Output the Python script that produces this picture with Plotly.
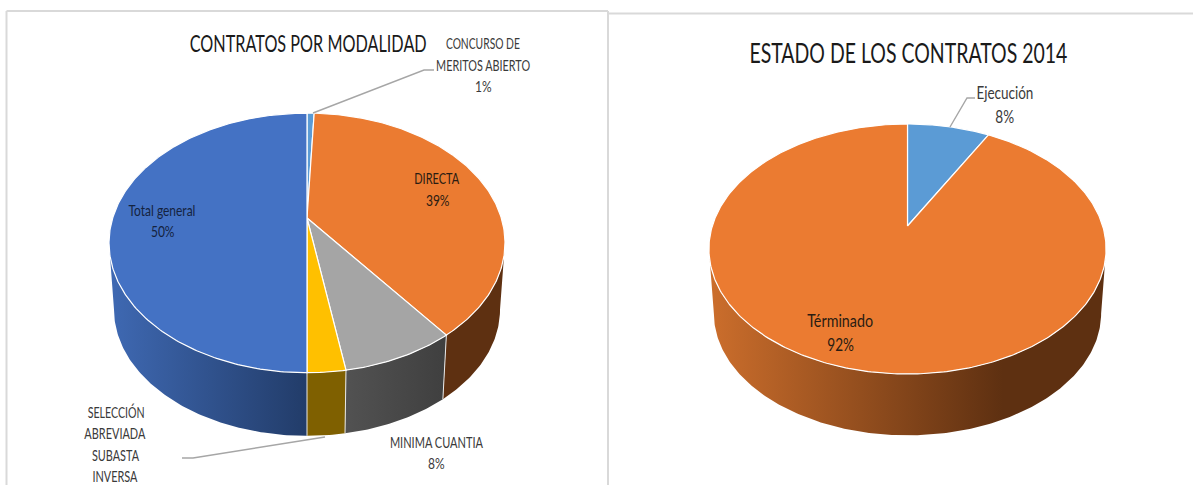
import json
import numpy as np
import plotly.graph_objects as go

# ---- data ----
modalidad_labels = ["CONCURSO DE\nMERITOS ABIERTO\n1%", "DIRECTA\n39%", "MINIMA CUANTIA\n8%",
                    "SELECCIÓN\nABREVIADA\nSUBASTA\nINVERSA", "Total general\n50%"]
modalidad_values = [0.7, 38.9, 7.8, 2.6, 50.0]
estado_labels = ["Ejecución\n8%", "Términado\n92%"]
estado_values = [8.0, 92.0]
title_left = "CONTRATOS POR MODALIDAD"
title_right = "ESTADO DE LOS CONTRATOS 2014"

# ---- styles ----
FONT = "Lato, Open Sans, sans-serif"
top_left = ["#5b9bd5", "#eb7b31", "#a5a5a5", "#ffc000", "#4472c4"]
side_left = [[(0, "#2f5f8f"), (1, "#2f5f8f")], [(0, "#5e3011"), (1, "#5e3011")],
             [(0, "#525252"), (1, "#3f3f3f")], [(0, "#7f6000"), (1, "#7f6000")],
             [(0, "#3f69b3"), (1, "#223c69")]]
top_right = ["#5b9bd5", "#eb7b31"]
side_right = [[(0, "#cc6e2c"), (1, "#cc6e2c")], [(0, "#cc6e2c"), (0.74, "#5e3011"), (1, "#5e3011")]]
# rendered text widths, px
text_widths = {title_left: 237, title_right: 318, "CONCURSO DE": 74, "MERITOS ABIERTO": 94,
               "DIRECTA": 45, "MINIMA CUANTIA": 93, "SELECCIÓN": 57, "ABREVIADA": 61,
               "SUBASTA": 47, "INVERSA": 45, "Total general": 67, "Ejecución": 57, "Términado": 66}


def project(theta, cx, cy, a, b, k, scale=1.0, dy=0.0):
    """Perspective view of a disk; theta is clockwise from 12 o'clock."""
    u, v = np.sin(theta), -np.cos(theta)
    w = 1 - k * v
    return cx + scale * a * u / w, cy + dy + scale * b * v / w


def draw_pie(fig, values, tops, sides, g):
    fracs = np.array(values) / sum(values)
    edges = np.concatenate([[0], np.cumsum(fracs)]) * 2 * np.pi
    k = g["disk"][4]
    lim0 = np.arccos(-k)
    lim1 = 2 * np.pi - lim0
    for i in range(len(values)):
        a0, a1 = max(edges[i], lim0), min(edges[i + 1], lim1)
        if a1 <= a0:
            continue
        th = np.linspace(a0, a1, max(3, int((a1 - a0) / np.radians(0.7))))
        x1, y1 = project(th, *g["disk"])
        x2, y2 = project(th[::-1], *g["disk"], scale=g["scale"], dy=g["dy"])
        fig.add_trace(go.Scatter(
            x=[*x1, *x2, x1[0]], y=[*y1, *y2, y1[0]], mode="lines", fill="toself",
            fillgradient=dict(type="horizontal", colorscale=sides[i]),
            line=dict(width=0), hoverinfo="skip"))
    # light seams on the side wall
    for e in edges:
        if np.cos(e) < 0:
            x1, y1 = project(np.array([e]), *g["disk"])
            x2, y2 = project(np.array([e]), *g["disk"], scale=g["scale"], dy=g["dy"])
            fig.add_trace(go.Scatter(x=[x1[0], x2[0]], y=[y1[0], y2[0]], mode="lines",
                                     line=dict(color="#e8e8e8", width=1), hoverinfo="skip"))
    # top faces
    cx, cy = g["disk"][0], g["disk"][1]
    for i in range(len(values)):
        th = np.linspace(edges[i], edges[i + 1], max(3, int((edges[i + 1] - edges[i]) / np.radians(0.7))))
        x, y = project(th, *g["disk"])
        fig.add_trace(go.Scatter(x=[cx, *x, cx], y=[cy, *y, cy], mode="lines", fill="toself",
                                 fillcolor=tops[i], line=dict(color="#ffffff", width=1.2),
                                 hoverinfo="skip"))


fig = go.Figure()
geo_left = dict(disk=(307, 218, 194.3, 125, 0.192), scale=0.975, dy=67)
geo_right = dict(disk=(907.5, 226, 195.2, 120.8, 0.184), scale=0.975, dy=65)
draw_pie(fig, modalidad_values, top_left, side_left, geo_left)
draw_pie(fig, estado_values, top_right, side_right, geo_right)

# leader lines
LEAD = "#a6a6a6"
for lx, ly in [((313, 424, 434), (113, 70, 70)), ((325, 193, 182), (437, 458, 458)), ((950, 967, 975), (127, 98, 98))]:
    fig.add_trace(go.Scatter(x=lx, y=ly, mode="lines", line=dict(color=LEAD, width=1.4), hoverinfo="skip"))


def label(text, x, y0, spacing, size, color):
    for j, line in enumerate(text.split("\n")):
        fig.add_annotation(x=x, y=y0 + j * spacing, text=line, showarrow=False, xanchor="center",
                           yanchor="middle", font=dict(family=FONT, size=size, color=color))


DARK = "#3a3a3a"
INK = "#2a1c12"
label(modalidad_labels[0], 483, 43, 21.5, 15, DARK)
label(modalidad_labels[1], 437, 178, 21.5, 15, INK)
label(modalidad_labels[2], 436.5, 441.5, 21.5, 15, DARK)
label(modalidad_labels[3], 115.5, 411.5, 21.5, 15, DARK)
label(modalidad_labels[4], 162, 209.5, 21.5, 15, "#14233f")
label(estado_labels[0], 1005, 92.5, 24, 17, DARK)
label(estado_labels[1], 840, 320.5, 24, 17, INK)
label(title_left, 307.5, 42.5, 0, 24, "#1a1a1a")
label(title_right, 908, 52, 0, 27, "#1a1a1a")

FRAME = "#d9d9d9"
shapes = [
    dict(type="line", x0=6.5, x1=6.5, y0=11, y1=485, line=dict(color=FRAME, width=2)),
    dict(type="line", x0=6.5, x1=608, y0=11, y1=11, line=dict(color=FRAME, width=2)),
    dict(type="line", x0=608, x1=608, y0=11, y1=485, line=dict(color=FRAME, width=2)),
    dict(type="line", x0=608, x1=1193, y0=13.5, y1=13.5, line=dict(color=FRAME, width=2)),
]

fig.update_layout(
    width=1193, height=485, margin=dict(l=0, r=0, t=0, b=0), showlegend=False,
    paper_bgcolor="white", plot_bgcolor="white", shapes=shapes,
    xaxis=dict(range=[0, 1193], visible=False, fixedrange=True),
    yaxis=dict(range=[485, 0], visible=False, fixedrange=True),
)
post = """
document.body.style.margin='0';
var targets = %s;
document.querySelectorAll('.annotation-text').forEach(function(t){
  var w = t.getComputedTextLength();
  var goal = targets[t.textContent] || w*0.8;
  t.setAttribute('lengthAdjust','spacingAndGlyphs');
  t.setAttribute('textLength', goal.toFixed(1));
});
""" % json.dumps(text_widths, ensure_ascii=False)
fig.write_html("out.html", config=dict(displayModeBar=False), post_script=post)
